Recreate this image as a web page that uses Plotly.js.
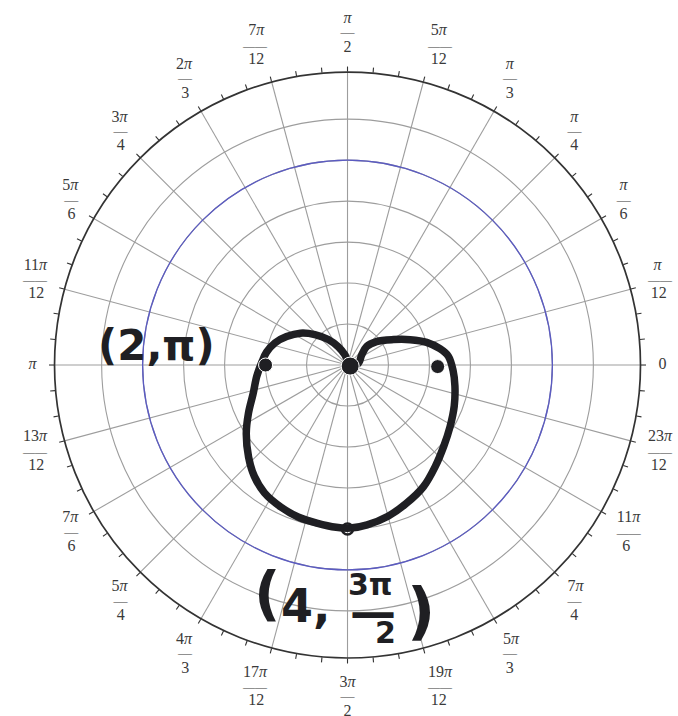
<!DOCTYPE html>
<html>
<head>
<meta charset="utf-8">
<script src="https://cdn.plot.ly/plotly-3.0.1.min.js"></script>
<style>
  html, body { margin: 0; padding: 0; background: #ffffff; }
  #chart { width: 678px; height: 716px; }
</style>
</head>
<body>
<div id="chart"></div>
<script>
// Angular tick positions (degrees) and their fraction labels
const tickAngles = [0, 15, 30, 45, 60, 75, 90, 105, 120, 135, 150, 165,
                    180, 195, 210, 225, 240, 255, 270, 285, 300, 315, 330, 345];
const tickNumerators = ['0', 'π', 'π', 'π', 'π', '5π', 'π', '7π', '2π', '3π', '5π', '11π',
                        'π', '13π', '7π', '5π', '4π', '17π', '3π', '19π', '5π', '7π', '11π', '23π'];
const tickDenominators = ['', '12', '6', '4', '3', '12', '2', '12', '3', '4', '6', '12',
                          '', '12', '6', '4', '3', '12', '2', '12', '3', '4', '6', '12'];

// Small ticks on the rim every 5 degrees
const minorTickAngles = [0, 5, 10, 15, 20, 25, 30, 35, 40, 45, 50, 55, 60, 65, 70, 75, 80, 85,
                         90, 95, 100, 105, 110, 115, 120, 125, 130, 135, 140, 145, 150, 155, 160, 165, 170, 175,
                         180, 185, 190, 195, 200, 205, 210, 215, 220, 225, 230, 235, 240, 245, 250, 255, 260, 265,
                         270, 275, 280, 285, 290, 295, 300, 305, 310, 315, 320, 325, 330, 335, 340, 345, 350, 355];

// Radial rings and the highlighted circle
const ringRadii = [1, 2, 3, 4, 5, 6];
const highlightRadius = [5];
const radialMax = 7.15;

// Hand-sketched heart-shaped curve (r, theta in degrees)
const curveR = [0.07, 0.25, 0.50, 0.78, 1.09, 1.39, 1.64, 1.85, 2.00, 2.09, 2.23, 2.41, 2.69, 2.98,
                3.30, 3.54, 3.72, 3.83, 3.90, 3.93, 3.97, 3.98, 3.93, 3.82, 3.67, 3.50, 3.27, 3.07,
                2.92, 2.79, 2.67, 2.58, 2.47, 2.29, 2.01, 1.65, 1.28, 0.91, 0.65, 0.42, 0.27, 0.07];
const curveTheta = [338, 104, 117, 127, 137, 146, 155, 163, 171, 178, 187, 197, 206, 214,
                    223, 230, 237, 245, 252, 259, 266, 271, 277, 285, 293, 302, 311, 320,
                    329, 339, 349, 357, 5, 10, 16, 22, 29, 39, 44, 35, 9, 338];

// Marked points on the sketch
const dotR = [2, 2.2, 0.07];
const dotTheta = [180, 359, 338];
const dotSize = [14, 14, 18];
const loopR = [4];
const loopTheta = [270];

const ink = '#1f1f23';
const gridGray = '#9d9d9d';

// Stacked fraction labels; lines are padded with no-break spaces so that
// numerator, bar and denominator sit centred over one another on the sides.
const GLYPH = 16, NBSP_W = 4, WIDE_BAR = 24, NARROW_BAR = 14;
function approxWidth(s) { return s.length * GLYPH * 0.5; }
function fractionLabel(num, den, angle) {
  const numHtml = num.replace('π', '<i>π</i>');
  const big = s => '<span style="font-size:' + GLYPH + 'px">' + s + '</span>';
  if (!den) return big(numHtml);
  const wide = den.length > 1 || num.length > 2;
  const barW = wide ? WIDE_BAR : NARROW_BAR;
  const cos = Math.cos(angle * Math.PI / 180);
  const side = Math.abs(cos) < 0.1 ? 0 : (cos > 0 ? 1 : -1);
  const target = Math.max(barW, approxWidth(num), approxWidth(den));
  const pad = (html, w) => {
    if (side === 0) return html;
    const n = Math.round((target - w) / 2 / NBSP_W);
    const sp = '\u00a0'.repeat(Math.max(0, n));
    return side > 0 ? sp + html : html + sp;
  };
  const barText = wide ? '<span style="font-size:12px">——</span>' : '<span style="font-size:14px">—</span>';
  return pad(big(numHtml), approxWidth(num)) + '<br>' +
         pad(barText, barW) + '<br>' +
         pad(big(den), approxWidth(den));
}
const tickLabels = tickAngles.map((a, i) => fractionLabel(tickNumerators[i], tickDenominators[i], a));

const domainX = [0.0804, 0.9447];
const domainY = [0.0810, 0.8994];

const traces = [
  {
    type: 'scatterpolar', subplot: 'polar',
    r: curveR, theta: curveTheta,
    mode: 'lines',
    line: { color: ink, width: 7.5, shape: 'spline', smoothing: 1 },
    hoverinfo: 'skip', showlegend: false
  },
  {
    type: 'scatterpolar', subplot: 'polar2',
    r: dotR, theta: dotTheta,
    mode: 'markers',
    marker: { color: ink, size: dotSize, opacity: 1 },
    hoverinfo: 'skip', showlegend: false
  },
  {
    type: 'scatterpolar', subplot: 'polar2',
    r: loopR, theta: loopTheta,
    mode: 'markers',
    marker: { symbol: 'circle-open', color: ink, size: 11, opacity: 1, line: { width: 2.5, color: ink } },
    hoverinfo: 'skip', showlegend: false
  }
];

const hand = { family: 'DejaVu Sans', color: ink, weight: 'bold' };
function note(text, x, y, size) {
  return {
    text: text, x: x, y: y, xref: 'paper', yref: 'paper',
    xanchor: 'center', yanchor: 'middle', showarrow: false,
    font: Object.assign({}, hand, { size: size })
  };
}

const layout = {
  width: 678, height: 716,
  margin: { l: 0, r: 0, t: 0, b: 0 },
  paper_bgcolor: '#ffffff',
  showlegend: false,
  polar: {
    domain: { x: domainX, y: domainY },
    bgcolor: '#ffffff',
    radialaxis: {
      range: [0, radialMax], tickmode: 'array', tickvals: ringRadii,
      showticklabels: false, ticks: '', showline: false,
      gridcolor: gridGray, gridwidth: 1.1
    },
    angularaxis: {
      direction: 'counterclockwise', rotation: 0,
      tickmode: 'array', tickvals: tickAngles, ticktext: tickLabels,
      // spacer ticks keep the labels clear of the rim; the visible ticks come from polar2
      ticks: 'outside', ticklen: 15, tickwidth: 1, tickcolor: 'rgba(0,0,0,0)',
      showline: true, linecolor: '#333333', linewidth: 1.7,
      gridcolor: gridGray, gridwidth: 1.1,
      tickfont: { family: 'Liberation Serif, serif', size: 11, color: '#3a3a3a' }
    }
  },
  polar2: {
    domain: { x: domainX, y: domainY },
    bgcolor: 'rgba(0,0,0,0)',
    radialaxis: {
      range: [0, radialMax], tickmode: 'array', tickvals: highlightRadius,
      showticklabels: false, ticks: '', showline: false,
      gridcolor: '#5b5bc2', gridwidth: 1.3
    },
    angularaxis: {
      direction: 'counterclockwise', rotation: 0,
      tickmode: 'array', tickvals: minorTickAngles, showticklabels: false,
      ticks: 'outside', ticklen: 5, tickwidth: 1.1, tickcolor: '#333333',
      showline: false, showgrid: false
    }
  },
  annotations: [
    note('(2,π)', 0.231, 0.517, 42),
    note('(', 0.394, 0.170, 58),
    note('4,', 0.450, 0.154, 46),
    note('3π', 0.547, 0.184, 30),
    note('—', 0.550, 0.145, 46),
    note('2', 0.568, 0.117, 30),
    note(')', 0.621, 0.148, 62)
  ]
};

Plotly.newPlot('chart', traces, layout, { displayModeBar: false, staticPlot: true });
</script>
</body>
</html>
